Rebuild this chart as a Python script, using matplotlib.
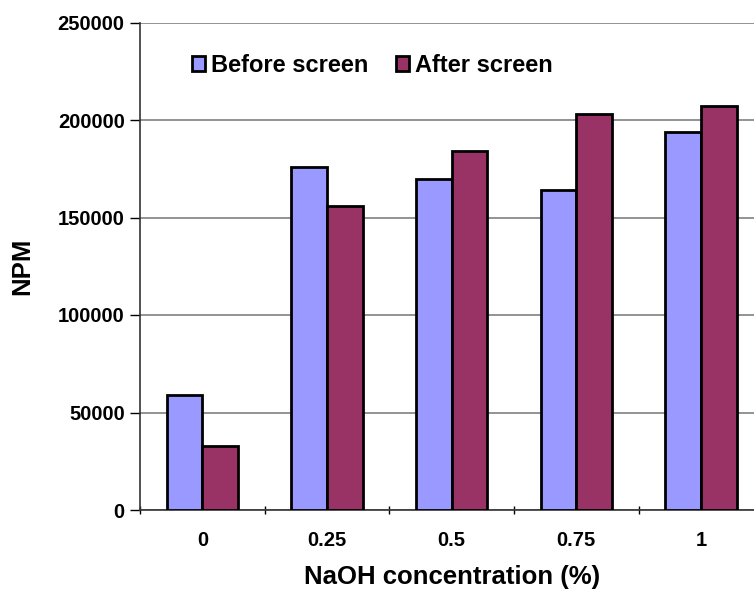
import numpy as np
import matplotlib as mpl
mpl.use('Agg')
import matplotlib.pyplot as plt

plt.rcParams['font.family'] = ['Liberation Sans', 'DejaVu Sans']
plt.rcParams['font.weight'] = 'bold'

conc = ['0', '0.25', '0.5', '0.75', '1']
before = [59000, 176000, 170000, 164000, 194000]
after = [33000, 156000, 184000, 203000, 207000]

fig = plt.figure(figsize=(7.54, 5.94), dpi=100)
W, H = 754., 594.
ax = fig.add_axes([140/W, (H-510)/H, (763.3-140)/W, (510-22.5)/H])

x = np.arange(len(conc))
bw = 1/3.5
ax.bar(x-bw/2, before, bw, color='#9999FF', edgecolor='black', linewidth=2, label='Before screen', zorder=3)
ax.bar(x+bw/2, after, bw, color='#993366', edgecolor='black', linewidth=2, label='After screen', zorder=3)

ax.set_xlim(-0.5, len(conc)-0.5)
ax.set_ylim(0, 250000)
ax.set_yticks(np.arange(0, 250001, 50000))
ax.yaxis.grid(True, color='#808080', linewidth=1.2, zorder=0)
ax.set_axisbelow(True)

ax.set_xticks(x)
ax.set_xticklabels(conc)
ax.set_xticks(np.arange(-0.5, len(conc), 1), minor=True)
ax.tick_params(axis='x', which='major', length=0, pad=15, labelsize=14.5)
ax.tick_params(axis='x', which='minor', length=6, width=1, direction='inout')
ax.tick_params(axis='y', length=7, width=1, labelsize=14.5, pad=4)

for s in ['top', 'right']:
    ax.spines[s].set_visible(False)
ax.spines['left'].set_linewidth(1.2)
ax.spines['bottom'].set_linewidth(1.2)
ax.spines['left'].set_color('#333333')
ax.spines['bottom'].set_color('#333333')

ax.set_xlabel('NaOH concentration (%)', fontsize=18.5, fontweight='bold', labelpad=11)
ax.set_ylabel('NPM', fontsize=18.5, fontweight='bold', labelpad=17)

leg = ax.legend(loc='upper left', bbox_to_anchor=(0.068, 0.955), ncol=2, frameon=False,
                fontsize=17, handlelength=0.55, handleheight=0.55, handletextpad=0.25,
                columnspacing=1.2, borderaxespad=0)

fig.savefig('out.png', dpi=100, facecolor='w')
